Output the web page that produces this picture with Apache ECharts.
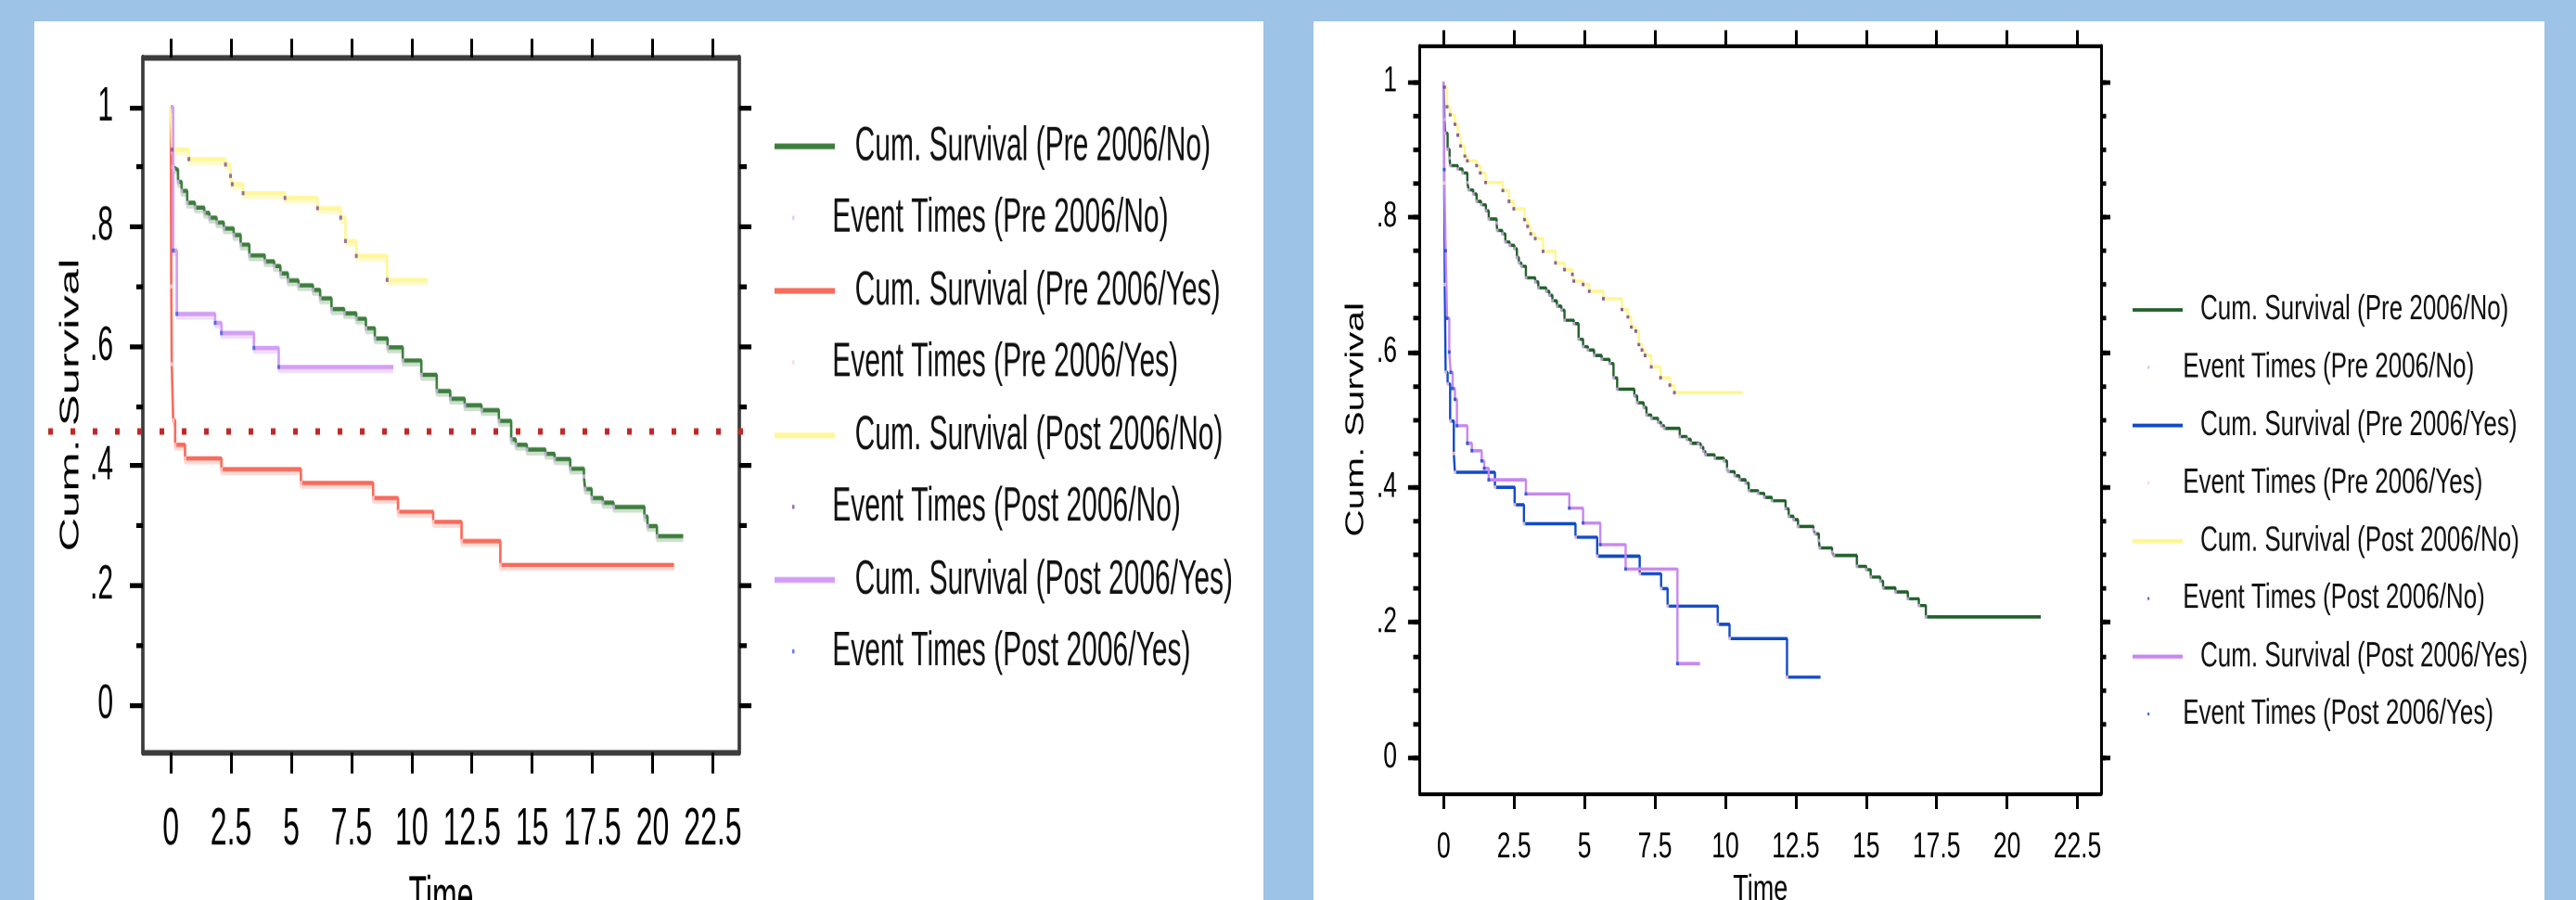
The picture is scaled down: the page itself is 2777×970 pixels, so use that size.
<!DOCTYPE html>
<html>
<head>
<meta charset="utf-8">
<title>Cum. Survival</title>
<script src="https://cdn.jsdelivr.net/npm/echarts@6/dist/echarts.min.js"></script>
<style>
  html, body { margin: 0; padding: 0; width: 2777px; height: 970px; overflow: hidden; background: #9dc3e6; }
  .panel { position: absolute; background: #fff; overflow: hidden; }
  #left-panel { left: 37px; top: 23px; width: 1325px; height: 947px; }
  #right-panel { left: 1416px; top: 23px; width: 1327px; height: 947px; }
  /* the source picture is stretched vertically, so each chart is drawn flat and scaled */
  .chart { position: absolute; left: 0; top: 0; transform-origin: 0 0; }
  #left-chart { width: 1325px; height: 541px; transform: scaleY(1.75); }
  #right-chart { width: 1327px; height: 653px; transform: scaleY(1.45); }
</style>
</head>
<body>
<div class="panel" id="left-panel"><div class="chart" id="left-chart"></div></div>
<div class="panel" id="right-panel"><div class="chart" id="right-chart"></div></div>
<script>
// tick values and labels
const xTickValues = [0, 2.5, 5, 7.5, 10, 12.5, 15, 17.5, 20, 22.5];
const xTickLabels = ['0', '2.5', '5', '7.5', '10', '12.5', '15', '17.5', '20', '22.5'];
const yLabelValues = [0, 0.2, 0.4, 0.6, 0.8, 1];
const yTickLabels = ['0', '.2', '.4', '.6', '.8', '1'];
const leftMinorTicks = [0, 0.1, 0.2, 0.3, 0.4, 0.5, 0.6, 0.7, 0.8, 0.9, 1];
const rightMinorTicks = [0, 0.05, 0.1, 0.15, 0.2, 0.25, 0.3, 0.35, 0.4, 0.45, 0.5,
  0.55, 0.6, 0.65, 0.7, 0.75, 0.8, 0.85, 0.9, 0.95, 1];

const groups = ['Pre 2006/No', 'Pre 2006/Yes', 'Post 2006/No', 'Post 2006/Yes'];

// left chart: [time, cumulative survival]
const leftPreNo = [[0, 1], [0.08, 0.9], [0.13, 0.895], [0.3, 0.875], [0.45, 0.86], [0.68, 0.84], [1.0, 0.832],
  [1.39, 0.823], [1.6, 0.815], [1.9, 0.807], [2.2, 0.797], [2.61, 0.786], [2.9, 0.77], [3.26, 0.752],
  [3.9, 0.742], [4.29, 0.734], [4.55, 0.722], [4.86, 0.71], [5.3, 0.702], [5.9, 0.694], [6.2, 0.68],
  [6.67, 0.662], [7.2, 0.655], [7.7, 0.646], [8.1, 0.63], [8.47, 0.613], [9.0, 0.598], [9.63, 0.576],
  [10.4, 0.552], [11.04, 0.525], [11.6, 0.512], [12.2, 0.501], [12.9, 0.493], [13.62, 0.475], [14.13, 0.444],
  [14.32, 0.435], [14.78, 0.427], [15.55, 0.42], [15.93, 0.411], [16.58, 0.395], [17.15, 0.382], [17.2, 0.361],
  [17.47, 0.346], [17.93, 0.338], [18.38, 0.331], [19.66, 0.315], [19.79, 0.299], [20.18, 0.282], [21.27, 0.282]];
const leftPreYes = [[0, 1], [0.02, 0.7], [0.04, 0.57], [0.1, 0.476], [0.18, 0.435], [0.59, 0.412], [2.1, 0.394],
  [5.4, 0.371], [8.4, 0.346], [9.43, 0.323], [10.89, 0.306], [12.07, 0.274], [13.68, 0.234], [20.89, 0.234]];
const leftPostNo = [[0, 1], [0.05, 0.929], [0.75, 0.913], [2.27, 0.904], [2.48, 0.885], [2.55, 0.871], [3.0, 0.856],
  [4.74, 0.848], [6.09, 0.831], [7.05, 0.815], [7.25, 0.776], [7.7, 0.751], [8.98, 0.711], [10.66, 0.711]];
const leftPostYes = [[0, 1], [0.1, 0.76], [0.25, 0.654], [1.84, 0.639], [2.1, 0.622], [3.45, 0.597], [4.48, 0.565],
  [9.24, 0.565]];
const leftCutoff = 0.457; // red dotted reference line

// right chart
const rightPreNo = [[0, 1], [0.03, 0.944], [0.05, 0.924], [0.14, 0.9], [0.21, 0.887], [0.23, 0.876], [0.5, 0.871],
  [0.67, 0.865], [0.84, 0.851], [0.89, 0.84], [1.05, 0.834], [1.17, 0.823], [1.33, 0.818], [1.5, 0.809],
  [1.6, 0.797], [1.88, 0.791], [1.9, 0.78], [2.08, 0.775], [2.19, 0.763], [2.34, 0.758], [2.51, 0.753],
  [2.6, 0.74], [2.67, 0.732], [2.76, 0.727], [2.92, 0.71], [3.25, 0.704], [3.36, 0.695], [3.64, 0.69],
  [3.75, 0.684], [3.86, 0.676], [4.02, 0.668], [4.18, 0.662], [4.29, 0.647], [4.62, 0.642], [4.79, 0.619],
  [4.95, 0.608], [5.12, 0.603], [5.34, 0.595], [5.61, 0.589], [5.89, 0.583], [6.03, 0.562], [6.16, 0.545],
  [6.77, 0.535], [6.87, 0.525], [7.1, 0.518], [7.2, 0.507], [7.37, 0.502], [7.61, 0.496], [7.72, 0.491],
  [7.83, 0.487], [8.38, 0.475], [8.63, 0.471], [8.77, 0.465], [9.04, 0.464], [9.13, 0.459], [9.22, 0.453],
  [9.29, 0.448], [9.62, 0.443], [9.95, 0.439], [10.06, 0.427], [10.11, 0.423], [10.33, 0.417], [10.5, 0.411],
  [10.72, 0.406], [10.83, 0.395], [11.16, 0.391], [11.38, 0.385], [11.65, 0.38], [12.14, 0.368], [12.25, 0.357],
  [12.42, 0.352], [12.58, 0.342], [13.13, 0.337], [13.19, 0.331], [13.32, 0.321], [13.35, 0.31], [13.79, 0.304],
  [13.85, 0.299], [14.67, 0.283], [15.0, 0.278], [15.16, 0.267], [15.5, 0.261], [15.6, 0.251], [16.04, 0.245],
  [16.48, 0.235], [16.87, 0.225], [17.12, 0.208], [21.2, 0.208]];
const rightPreYes = [[0, 1], [0.02, 0.85], [0.04, 0.7], [0.07, 0.57], [0.14, 0.553], [0.23, 0.498], [0.36, 0.45],
  [0.4, 0.422], [1.82, 0.4], [2.52, 0.374], [2.85, 0.346], [4.68, 0.326], [5.45, 0.298], [6.96, 0.272],
  [7.72, 0.25], [7.95, 0.224], [9.73, 0.197], [10.15, 0.176], [12.19, 0.119], [13.38, 0.119]];
const rightPostNo = [[0, 1], [0.03, 0.992], [0.12, 0.963], [0.23, 0.951], [0.4, 0.937], [0.5, 0.921], [0.6, 0.905],
  [0.75, 0.89], [0.84, 0.883], [1.17, 0.876], [1.3, 0.865], [1.49, 0.851], [2.1, 0.839], [2.32, 0.823],
  [2.49, 0.812], [2.87, 0.796], [2.98, 0.786], [3.09, 0.775], [3.25, 0.768], [3.53, 0.749], [3.97, 0.732],
  [4.29, 0.722], [4.57, 0.715], [4.62, 0.705], [4.95, 0.7], [5.17, 0.69], [5.67, 0.679], [6.33, 0.663],
  [6.54, 0.652], [6.66, 0.637], [6.82, 0.631], [6.93, 0.611], [7.04, 0.603], [7.15, 0.595], [7.37, 0.578],
  [7.7, 0.562], [8.03, 0.551], [8.19, 0.54], [10.61, 0.54]];
const rightPostYes = [[0, 1], [0.02, 0.87], [0.07, 0.75], [0.12, 0.65], [0.2, 0.6], [0.25, 0.57], [0.32, 0.546],
  [0.4, 0.53], [0.47, 0.491], [0.84, 0.465], [1.0, 0.454], [1.35, 0.439], [1.44, 0.428], [1.6, 0.411],
  [2.92, 0.39], [4.46, 0.369], [4.95, 0.347], [5.56, 0.315], [6.46, 0.279], [8.3, 0.139], [9.1, 0.139]];

const font = 'Liberation Sans';

function labelOf (values, labels) {
  return (v) => {
    let i = values.findIndex(x => Math.abs(x - v) < 1e-9);
    return i < 0 ? '' : labels[i];
  };
}

function buildAxes (c) {
  let base = { type: 'value', min: c.xMin, max: c.xMax, splitLine: { show: false } };
  let xAxis = [
    Object.assign({}, base, {
      position: 'bottom',
      name: 'Time',
      nameLocation: 'middle',
      nameGap: c.xNameGap,
      nameMoveOverlap: false,
      nameTextStyle: { fontFamily: font, fontSize: c.xNameSize, color: '#000' },
      axisLine: { show: true, onZero: false, lineStyle: { color: c.boxColor, width: c.xLineWidth } },
      axisTick: { show: true, inside: false, length: c.bottomTick, customValues: xTickValues,
        lineStyle: { color: '#000', width: c.xTickWidth } },
      axisLabel: { show: true, customValues: xTickValues, formatter: labelOf(xTickValues, xTickLabels),
        margin: c.xLabelMargin, fontFamily: font, fontSize: c.xLabelSize, color: '#000' }
    }),
    Object.assign({}, base, {
      position: 'top',
      axisLine: { show: true, onZero: false, lineStyle: { color: c.boxColor, width: c.xLineWidth } },
      axisTick: { show: true, inside: false, length: c.topTick, customValues: xTickValues,
        lineStyle: { color: '#000', width: c.xTickWidth } },
      axisLabel: { show: false }
    })
  ];
  let ybase = { type: 'value', min: c.yMin, max: c.yMax, splitLine: { show: false } };
  let yAxis = [
    Object.assign({}, ybase, {
      position: 'left',
      name: 'Cum. Survival',
      nameLocation: 'middle',
      nameGap: c.yNameGap,
      nameMoveOverlap: false,
      nameTextStyle: { fontFamily: font, fontSize: c.yNameSize, color: '#000' },
      axisLine: { show: true, onZero: false, lineStyle: { color: c.boxColor, width: c.yLineWidth } },
      axisTick: { show: true, inside: false, length: c.leftMajor, customValues: yLabelValues,
        lineStyle: { color: '#000', width: c.yTickWidth } },
      axisLabel: { show: true, customValues: yLabelValues, formatter: labelOf(yLabelValues, yTickLabels),
        margin: c.yLabelMargin, fontFamily: font, fontSize: c.yLabelSize, color: '#000' }
    }),
    Object.assign({}, ybase, {
      position: 'left',
      axisLine: { show: false, onZero: false },
      axisTick: { show: true, inside: false, length: c.leftMinor, customValues: c.minorTicks,
        lineStyle: { color: '#000', width: c.yTickWidth } },
      axisLabel: { show: false }
    }),
    Object.assign({}, ybase, {
      position: 'right',
      axisLine: { show: true, onZero: false, lineStyle: { color: c.boxColor, width: c.yLineWidth } },
      axisTick: { show: true, inside: false, length: c.rightMajor, customValues: yLabelValues,
        lineStyle: { color: '#000', width: c.yTickWidth } },
      axisLabel: { show: false }
    }),
    Object.assign({}, ybase, {
      position: 'right',
      axisLine: { show: false, onZero: false },
      axisTick: { show: true, inside: false, length: c.rightMinor, customValues: c.minorTicks,
        lineStyle: { color: '#000', width: c.yTickWidth } },
      axisLabel: { show: false }
    })
  ];
  return { xAxis, yAxis };
}

function curveSeries (name, data, color, width, shadow) {
  return {
    name: name,
    type: 'line',
    step: 'end',
    data: data,
    symbol: 'none',
    color: color,
    silent: true,
    z: 2,
    lineStyle: {
      color: color,
      width: width,
      shadowColor: shadow || 'rgba(0,0,0,0)',
      shadowOffsetY: shadow ? 2.3 : 0,
      shadowBlur: 0
    }
  };
}

function eventSeries (name, data, color, size) {
  return {
    name: name,
    type: 'scatter',
    data: data.slice(1, -1),
    symbol: 'rect',
    symbolSize: size,
    color: color,
    itemStyle: { color: color },
    silent: true,
    z: 3
  };
}

function buildLegends (c) {
  let cumNames = groups.map(g => 'Cum. Survival (' + g + ')');
  let eventNames = groups.map(g => 'Event Times (' + g + ')');
  let text = { fontFamily: font, fontSize: c.size, lineHeight: c.lineHeight, color: '#111' };
  return [
    {
      data: cumNames, orient: 'vertical', left: c.lineLeft, top: c.cumTop, padding: 0,
      itemGap: c.gap, itemWidth: c.lineWidth, itemHeight: c.lineHeight2, icon: 'rect', selectedMode: false,
      textStyle: Object.assign({}, text, { padding: [0, 0, 0, c.cumPad] })
    },
    {
      data: eventNames, orient: 'vertical', left: c.dotLeft, top: c.eventTop, padding: 0,
      itemGap: c.gap, itemWidth: c.dot, itemHeight: c.dot, icon: 'rect', selectedMode: false,
      textStyle: Object.assign({}, text, { padding: [0, 0, 0, c.eventPad] })
    }
  ];
}

// ---------- left chart ----------
let leftChart = echarts.init(document.getElementById('left-chart'), null, { devicePixelRatio: 2 });
let leftAxes = buildAxes({
  xMin: -1.16, xMax: 23.6, yMin: -0.08, yMax: 1.083,
  boxColor: '#3c3c3c', xLineWidth: 3.4, yLineWidth: 3.7, xTickWidth: 3, yTickWidth: 3,
  bottomTick: 13, topTick: 11.5, leftMajor: 14, leftMinor: 7, rightMajor: 13, rightMinor: 8,
  minorTicks: leftMinorTicks,
  xLabelSize: 32, xLabelMargin: 32, yLabelSize: 30, yLabelMargin: 32,
  xNameSize: 32, xNameGap: 74, yNameSize: 29, yNameGap: 63
});
leftChart.setOption({
  animation: false,
  grid: { left: 117, top: 22.3, width: 643, height: 428, containLabel: false, outerBoundsMode: 'none' },
  xAxis: leftAxes.xAxis,
  yAxis: leftAxes.yAxis,
  legend: buildLegends({
    size: 30, lineHeight: 32, gap: 57, cumTop: 61, eventTop: 105,
    lineLeft: 798, lineWidth: 65, lineHeight2: 3.5, cumPad: 16.6,
    dotLeft: 817, dot: 2.5, eventPad: 35.7
  }),
  series: [
    curveSeries('Cum. Survival (' + groups[0] + ')', leftPreNo, '#3d7e3d', 2.6, 'rgba(61,126,61,0.25)'),
    eventSeries('Event Times (' + groups[0] + ')', leftPreNo, '#dcbcf8', [3, 2.5]),
    curveSeries('Cum. Survival (' + groups[1] + ')', leftPreYes, '#f96b5c', 2.6, 'rgba(249,107,92,0.25)'),
    eventSeries('Event Times (' + groups[1] + ')', leftPreYes, '#ffd0d6', [3, 2.5]),
    curveSeries('Cum. Survival (' + groups[2] + ')', leftPostNo, '#fff79c', 2.6, 'rgba(255,247,156,0.5)'),
    eventSeries('Event Times (' + groups[2] + ')', leftPostNo, '#7b4b9e', [3, 2.5]),
    curveSeries('Cum. Survival (' + groups[3] + ')', leftPostYes, '#d49df5', 2.6, 'rgba(212,157,245,0.35)'),
    eventSeries('Event Times (' + groups[3] + ')', leftPostYes, '#3c5ee0', [3, 2.5])
  ]
});
let cutY = leftChart.convertToPixel({ yAxisIndex: 0 }, leftCutoff);
leftChart.setOption({
  graphic: [{
    type: 'line',
    z: 100,
    silent: true,
    shape: { x1: 15, y1: cutY, x2: 781, y2: cutY },
    style: { stroke: '#c02828', lineWidth: 4, lineDash: [5, 19] }
  }]
});

// ---------- right chart ----------
let rightChart = echarts.init(document.getElementById('right-chart'), null, { devicePixelRatio: 2 });
let rightAxes = buildAxes({
  xMin: -0.85, xMax: 23.34, yMin: -0.053, yMax: 1.053,
  boxColor: '#000', xLineWidth: 3, yLineWidth: 3, xTickWidth: 3, yTickWidth: 3.4,
  bottomTick: 11.7, topTick: 11.7, leftMajor: 12.6, leftMinor: 7, rightMajor: 10, rightMinor: 5.5,
  minorTicks: rightMinorTicks,
  xLabelSize: 26.5, xLabelMargin: 27, yLabelSize: 26.5, yLabelMargin: 24.5,
  xNameSize: 27, xNameGap: 58, yNameSize: 28, yNameGap: 54.5
});
rightChart.setOption({
  animation: false,
  grid: { left: 114.5, top: 18.3, width: 734.5, height: 555.5, containLabel: false, outerBoundsMode: 'none' },
  xAxis: rightAxes.xAxis,
  yAxis: rightAxes.yAxis,
  legend: buildLegends({
    size: 26, lineHeight: 28, gap: 57.9, cumTop: 200.5, eventTop: 243.2,
    lineLeft: 883, lineWidth: 54, lineHeight2: 2.8, cumPad: 14,
    dotLeft: 899, dot: 2.2, eventPad: 31
  }),
  series: [
    curveSeries('Cum. Survival (' + groups[0] + ')', rightPreNo, '#22602a', 2.4),
    eventSeries('Event Times (' + groups[0] + ')', rightPreNo, '#d9b0f2', [3, 2.5]),
    curveSeries('Cum. Survival (' + groups[1] + ')', rightPreYes, '#114bc9', 2.4),
    eventSeries('Event Times (' + groups[1] + ')', rightPreYes, '#ffcfcf', [3, 2.5]),
    curveSeries('Cum. Survival (' + groups[2] + ')', rightPostNo, '#fff690', 2.4),
    eventSeries('Event Times (' + groups[2] + ')', rightPostNo, '#6e3c96', [3, 2.5]),
    curveSeries('Cum. Survival (' + groups[3] + ')', rightPostYes, '#c787f0', 2.4),
    eventSeries('Event Times (' + groups[3] + ')', rightPostYes, '#114bc9', [3, 2.5])
  ]
});
</script>
</body>
</html>
